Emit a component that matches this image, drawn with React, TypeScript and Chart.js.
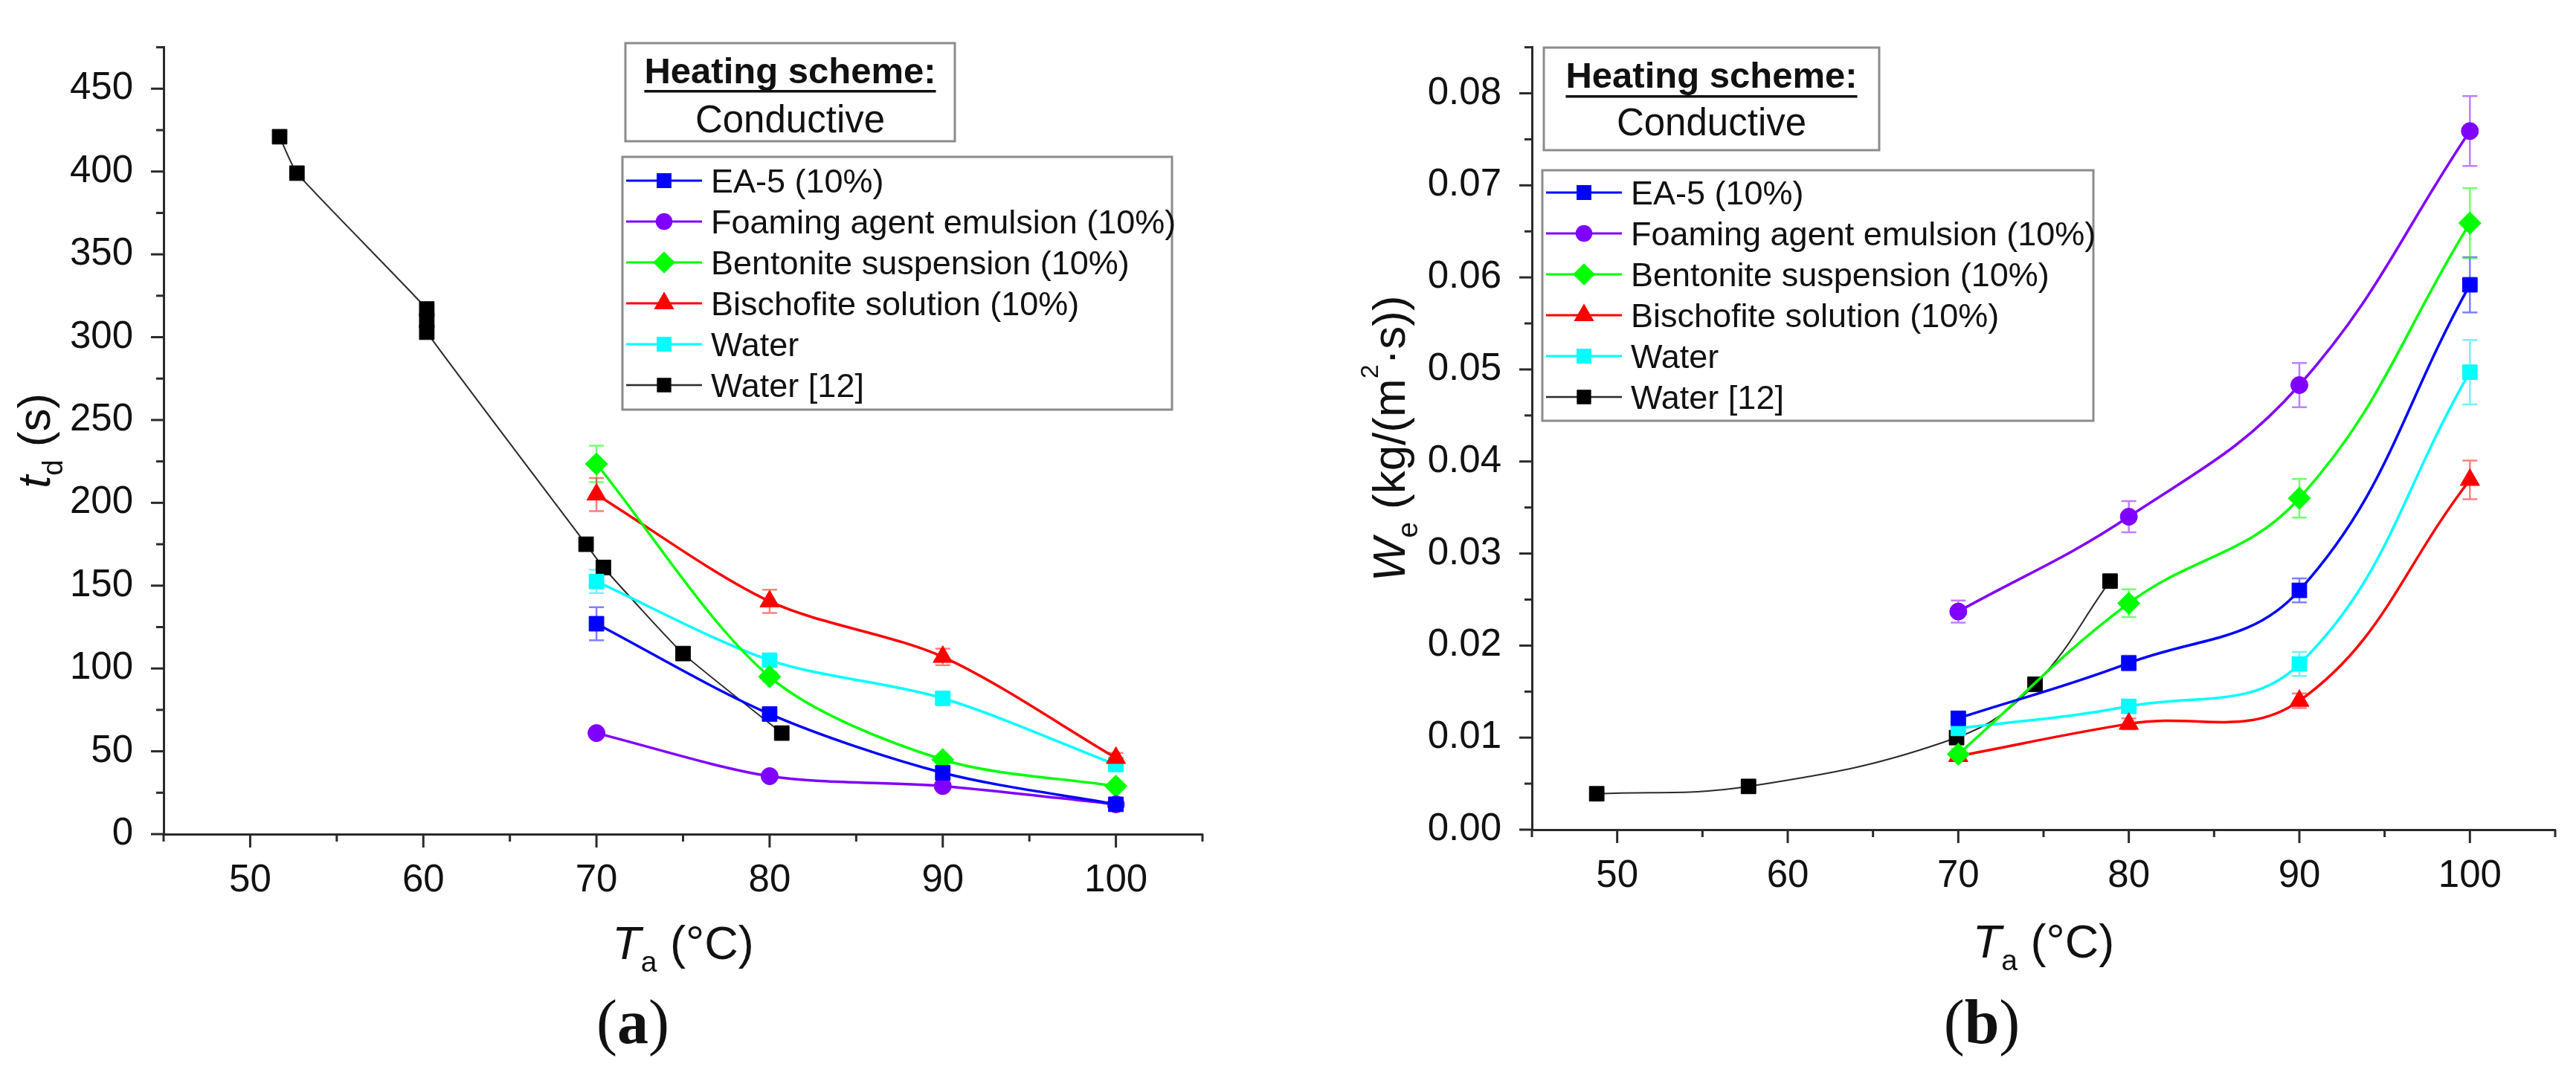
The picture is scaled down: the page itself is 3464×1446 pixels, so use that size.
import React, { useEffect, useRef } from 'react';
import { Chart, registerables } from 'chart.js';
import { drawPoint } from 'chart.js/helpers';

Chart.register(...registerables);

const SANS = "'Liberation Sans', Arial, Helvetica, sans-serif";
const SERIF = "'Liberation Serif', 'Times New Roman', serif";
const AXIS_COLOR = '#2a2a2a';
const TEXT_COLOR = '#111111';

// ---------- shared series description ----------
const seriesLabels = [
  'EA-5 (10%)',
  'Foaming agent emulsion (10%)',
  'Bentonite suspension (10%)',
  'Bischofite solution (10%)',
  'Water',
  'Water [12]',
];
const seriesColors = ['#0000FF', '#8000FF', '#00FF00', '#FF0000', '#00FFFF', '#1a1a1a'];
const errorColors = [
  'rgba(0,0,255,0.5)',
  'rgba(128,0,255,0.5)',
  'rgba(0,255,0,0.55)',
  'rgba(255,0,0,0.5)',
  'rgba(0,230,255,0.55)',
  'rgba(0,0,0,0.5)',
];
const pointStyles = ['rect', 'circle', 'rectRot', 'triangle', 'rect', 'rect'];
const pointRadii = [14, 11.5, 15, 15, 14, 14];

// x axis (both panels)
const tempMin = 45;
const tempMax = 105;
const tempStep = 5;

// ---------- panel (a): t_d ----------
const tempA = [70, 80, 90, 100];
const tdEA5 = [127, 72.5, 37, 18];
const tdEA5Err = [10, 3, 2, 1];
const tdFoam = [61, 35, 29, 18];
const tdFoamErr = [2, 1.5, 1, 1];
const tdBent = [223.5, 95, 45, 29];
const tdBentErr = [11, 3, 2, 1.5];
const tdBisch = [205, 140.5, 107, 46];
const tdBischErr = [10, 7, 5, 3];
const tdWater = [152.5, 105, 82, 42];
const tdWaterErr = [7, 3, 3, 2];
const tempRefA = [51.7, 52.7, 60.2, 60.2, 60.2, 69.4, 70.4, 75.0, 80.7];
const tdRef = [421, 399, 317, 310, 303, 175, 161, 109, 61];
const tdMax = 475;
const tdStep = 25;

// ---------- panel (b): W_e ----------
const tempB = [70, 80, 90, 100];
const weEA5 = [0.0121, 0.0181, 0.026, 0.0592];
const weEA5Err = [0.0006, 0.0008, 0.0013, 0.003];
const weFoam = [0.0237, 0.034, 0.0483, 0.0759];
const weFoamErr = [0.0012, 0.0017, 0.0024, 0.0038];
const weBent = [0.0082, 0.0246, 0.036, 0.0659];
const weBentErr = [0.0006, 0.0015, 0.0021, 0.0038];
const weBisch = [0.008, 0.0115, 0.014, 0.038];
const weBischErr = [0.0005, 0.0006, 0.0008, 0.0021];
const weWater = [0.011, 0.0134, 0.018, 0.0497];
const weWaterErr = [0.0005, 0.0007, 0.0013, 0.0035];
const tempRefB = [48.8, 57.7, 69.9, 74.5, 78.9];
const weRef = [0.0039, 0.0047, 0.01, 0.0158, 0.027];
const weMax = 0.085;
const weStep = 0.005;

type Part = { t: string; italic?: boolean; bold?: boolean; sub?: boolean; sup?: boolean };

function partFont(p: Part, size: number, family: string) {
  const s = p.sub ? size * 0.62 : p.sup ? size * 0.55 : size;
  return `${p.italic ? 'italic ' : ''}${p.bold ? 'bold ' : ''}${s}px ${family}`;
}

function drawRich(
  ctx: CanvasRenderingContext2D,
  parts: Part[],
  size: number,
  x: number,
  y: number,
  rotate: boolean,
  family: string = SANS
) {
  ctx.save();
  ctx.translate(x, y);
  if (rotate) ctx.rotate(-Math.PI / 2);
  ctx.textBaseline = 'alphabetic';
  ctx.textAlign = 'left';
  ctx.fillStyle = TEXT_COLOR;
  const widths = parts.map((p) => {
    ctx.font = partFont(p, size, family);
    return ctx.measureText(p.t).width;
  });
  const total = widths.reduce((a, b) => a + b, 0);
  let cx = -total / 2;
  parts.forEach((p, i) => {
    ctx.font = partFont(p, size, family);
    const dy = p.sub ? size * 0.27 : p.sup ? -size * 0.58 : 0;
    ctx.fillText(p.t, cx, dy);
    cx += widths[i];
  });
  ctx.restore();
}

type PanelCfg = {
  id: string;
  padTop: number;
  padRight: number;
  yWidth: number;
  xHeight: number;
  yMax: number;
  yStep: number;
  yLabel: (v: number) => string;
  xTitleBaseline: number;
  yTitleBaselineX: number;
  yTitleParts: Part[];
  caption: string;
  captionX: number;
  captionBaseline: number;
  heating: { x: number; y: number; w: number; h: number; under: number; second: number };
  legend: { x: number; y: number; w: number; h: number; first: number };
  datasets: any[];
};

function buildDatasets(
  xs: number[],
  ys: number[][],
  errs: number[][],
  refX: number[],
  refY: number[],
  tension: number,
  refTension: number
) {
  const ds: any[] = ys.map((vals, i) => ({
    label: seriesLabels[i],
    data: xs.map((x, j) => ({ x, y: vals[j] })),
    errors: errs[i],
    errorColor: errorColors[i],
    borderColor: seriesColors[i],
    backgroundColor: seriesColors[i],
    pointBackgroundColor: seriesColors[i],
    pointBorderColor: seriesColors[i],
    pointStyle: pointStyles[i],
    pointRadius: pointRadii[i],
    pointBorderWidth: 1,
    borderWidth: 3.5,
    tension,
    fill: false,
  }));
  ds.push({
    label: seriesLabels[5],
    data: refX.map((x, j) => ({ x, y: refY[j] })),
    errors: null,
    errorColor: errorColors[5],
    borderColor: '#2a2a2a',
    backgroundColor: '#000000',
    pointBackgroundColor: '#000000',
    pointBorderColor: '#000000',
    pointStyle: pointStyles[5],
    pointRadius: pointRadii[5],
    pointBorderWidth: 1,
    borderWidth: 2,
    tension: refTension,
    fill: false,
  });
  return ds;
}

function makePlugin(cfg: PanelCfg) {
  return {
    id: 'decor_' + cfg.id,
    beforeDatasetsDraw(chart: any) {
      const ctx: CanvasRenderingContext2D = chart.ctx;
      const ys = chart.scales.y;
      chart.data.datasets.forEach((d: any, di: number) => {
        if (!d.errors) return;
        const meta = chart.getDatasetMeta(di);
        ctx.save();
        ctx.strokeStyle = d.errorColor;
        ctx.lineWidth = 2.5;
        d.data.forEach((pt: any, i: number) => {
          const e = d.errors[i];
          if (!e) return;
          const px = meta.data[i].x;
          const top = ys.getPixelForValue(pt.y + e);
          const bot = ys.getPixelForValue(pt.y - e);
          ctx.beginPath();
          ctx.moveTo(px, top);
          ctx.lineTo(px, bot);
          ctx.moveTo(px - 10, top);
          ctx.lineTo(px + 10, top);
          ctx.moveTo(px - 10, bot);
          ctx.lineTo(px + 10, bot);
          ctx.stroke();
        });
        ctx.restore();
      });
    },
    afterDraw(chart: any) {
      const ctx: CanvasRenderingContext2D = chart.ctx;
      const area = chart.chartArea;
      const xs = chart.scales.x;
      const ys = chart.scales.y;

      // ticks (major + minor)
      ctx.save();
      ctx.strokeStyle = AXIS_COLOR;
      ctx.lineWidth = 3;
      xs.ticks.forEach((t: any) => {
        const px = xs.getPixelForValue(t.value);
        const len = t.label !== '' ? 18 : 10;
        ctx.beginPath();
        ctx.moveTo(px, area.bottom);
        ctx.lineTo(px, area.bottom + len);
        ctx.stroke();
      });
      ys.ticks.forEach((t: any) => {
        const py = ys.getPixelForValue(t.value);
        const len = t.label !== '' ? 17 : 10;
        ctx.beginPath();
        ctx.moveTo(area.left, py);
        ctx.lineTo(area.left - len, py);
        ctx.stroke();
      });
      ctx.restore();

      // axis titles
      const cxArea = (area.left + area.right) / 2;
      const cyArea = (area.top + area.bottom) / 2;
      drawRich(
        ctx,
        [{ t: 'T', italic: true }, { t: 'a', sub: true }, { t: ' (°C)' }],
        63,
        cxArea,
        cfg.xTitleBaseline,
        false
      );
      drawRich(ctx, cfg.yTitleParts, 62, cfg.yTitleBaselineX, cyArea, true);

      // caption
      drawRich(
        ctx,
        [{ t: '(' }, { t: cfg.caption, bold: true }, { t: ')' }],
        84,
        cfg.captionX,
        cfg.captionBaseline,
        false,
        SERIF
      );

      // heating scheme box
      const hb = cfg.heating;
      ctx.save();
      ctx.strokeStyle = '#8c8c8c';
      ctx.lineWidth = 3;
      ctx.strokeRect(hb.x, hb.y, hb.w, hb.h);
      ctx.fillStyle = TEXT_COLOR;
      ctx.textAlign = 'center';
      ctx.textBaseline = 'alphabetic';
      ctx.font = `bold 49px ${SANS}`;
      const hcx = hb.x + hb.w / 2;
      const title = 'Heating scheme:';
      ctx.fillText(title, hcx, hb.y + 54);
      const tw = ctx.measureText(title).width;
      ctx.fillRect(hcx - tw / 2, hb.y + hb.under, tw, 3.5);
      ctx.font = `51px ${SANS}`;
      ctx.fillText('Conductive', hcx, hb.y + hb.second);
      ctx.restore();

      // series legend
      const lb = cfg.legend;
      ctx.save();
      ctx.strokeStyle = '#8c8c8c';
      ctx.lineWidth = 3;
      ctx.strokeRect(lb.x, lb.y, lb.w, lb.h);
      chart.data.datasets.forEach((d: any, i: number) => {
        const ry = lb.y + lb.first + i * 55;
        ctx.strokeStyle = d.borderColor;
        ctx.lineWidth = i === 5 ? 2.5 : 3;
        ctx.beginPath();
        ctx.moveTo(lb.x + 5, ry);
        ctx.lineTo(lb.x + 107, ry);
        ctx.stroke();
        ctx.fillStyle = d.pointBackgroundColor;
        ctx.strokeStyle = d.pointBorderColor;
        drawPoint(
          ctx,
          { pointStyle: d.pointStyle, radius: d.pointRadius * 0.85, rotation: 0, borderWidth: 1 } as any,
          lb.x + 56,
          ry
        );
        ctx.fillStyle = TEXT_COLOR;
        ctx.font = `45px ${SANS}`;
        ctx.textAlign = 'left';
        ctx.textBaseline = 'alphabetic';
        ctx.fillText(d.label, lb.x + 119, ry + 16);
      });
      ctx.restore();
    },
  };
}

function buildConfig(cfg: PanelCfg): any {
  return {
    type: 'line',
    data: { datasets: cfg.datasets },
    options: {
      responsive: false,
      animation: false,
      events: [],
      layout: { padding: { top: cfg.padTop, right: cfg.padRight, left: 0, bottom: 0 } },
      plugins: { legend: { display: false }, tooltip: { enabled: false }, title: { display: false } },
      scales: {
        x: {
          type: 'linear',
          min: tempMin,
          max: tempMax,
          grid: { display: false },
          border: { display: true, color: AXIS_COLOR, width: 3 },
          ticks: {
            stepSize: tempStep,
            autoSkip: false,
            maxRotation: 0,
            padding: 24,
            color: TEXT_COLOR,
            font: { family: SANS, size: 51 },
            callback: (v: number) => (Math.round(v) % 10 === 0 ? String(Math.round(v)) : ''),
          },
          afterFit: (s: any) => {
            s.height = cfg.xHeight;
          },
        },
        y: {
          type: 'linear',
          min: 0,
          max: cfg.yMax,
          grid: { display: false },
          border: { display: true, color: AXIS_COLOR, width: 3 },
          ticks: {
            stepSize: cfg.yStep,
            autoSkip: false,
            padding: 33,
            color: TEXT_COLOR,
            font: { family: SANS, size: 51 },
            callback: (v: number) => cfg.yLabel(v),
          },
          afterFit: (s: any) => {
            s.width = cfg.yWidth;
          },
        },
      },
    },
    plugins: [makePlugin(cfg)],
  };
}

const panelA: PanelCfg = {
  id: 'a',
  padTop: 51,
  padRight: 115,
  yWidth: 220,
  xHeight: 324,
  yMax: tdMax,
  yStep: tdStep,
  yLabel: (v) => (Math.round(v) % 50 === 0 ? String(Math.round(v)) : ''),
  xTitleBaseline: 1290,
  yTitleBaselineX: 67,
  yTitleParts: [{ t: 't', italic: true }, { t: 'd', sub: true }, { t: ' (s)' }],
  caption: 'a',
  captionX: 851,
  captionBaseline: 1403,
  heating: { x: 841, y: 58, w: 443, h: 132, under: 63, second: 120 },
  legend: { x: 837, y: 211, w: 739, h: 340, first: 32 },
  datasets: buildDatasets(
    tempA,
    [tdEA5, tdFoam, tdBent, tdBisch, tdWater],
    [tdEA5Err, tdFoamErr, tdBentErr, tdBischErr, tdWaterErr],
    tempRefA,
    tdRef,
    0.3,
    0.15
  ),
};

const panelB: PanelCfg = {
  id: 'b',
  padTop: 41,
  padRight: 28,
  yWidth: 328,
  xHeight: 330,
  yMax: weMax,
  yStep: weStep,
  yLabel: (v) => {
    const k = Math.round(v / weStep);
    return k % 2 === 0 ? (k * weStep).toFixed(2) : '';
  },
  xTitleBaseline: 1288,
  yTitleBaselineX: 157,
  yTitleParts: [
    { t: 'W', italic: true },
    { t: 'e', sub: true },
    { t: ' (kg/(m' },
    { t: '2', sup: true },
    { t: '·s))' },
  ],
  caption: 'b',
  captionX: 933,
  captionBaseline: 1403,
  heating: { x: 344, y: 64, w: 451, h: 138, under: 64, second: 118 },
  legend: { x: 342, y: 229, w: 741, h: 337, first: 30 },
  datasets: buildDatasets(
    tempB,
    [weEA5, weFoam, weBent, weBisch, weWater],
    [weEA5Err, weFoamErr, weBentErr, weBischErr, weWaterErr],
    tempRefB,
    weRef,
    0.4,
    0.4
  ),
};

export default function App() {
  const refA = useRef<HTMLCanvasElement>(null);
  const refB = useRef<HTMLCanvasElement>(null);
  useEffect(() => {
    document.body.style.margin = '0';
    const a = new Chart(refA.current as HTMLCanvasElement, buildConfig(panelA));
    const b = new Chart(refB.current as HTMLCanvasElement, buildConfig(panelB));
    return () => {
      a.destroy();
      b.destroy();
    };
  }, []);
  return (
    <div style={{ position: 'relative', width: 3464, height: 1446, background: '#ffffff', overflow: 'hidden' }}>
      <canvas
        ref={refA}
        width={1732}
        height={1446}
        style={{ position: 'absolute', left: 0, top: 0, width: 1732, height: 1446 }}
      />
      <canvas
        ref={refB}
        width={1732}
        height={1446}
        style={{ position: 'absolute', left: 1732, top: 0, width: 1732, height: 1446 }}
      />
    </div>
  );
}
